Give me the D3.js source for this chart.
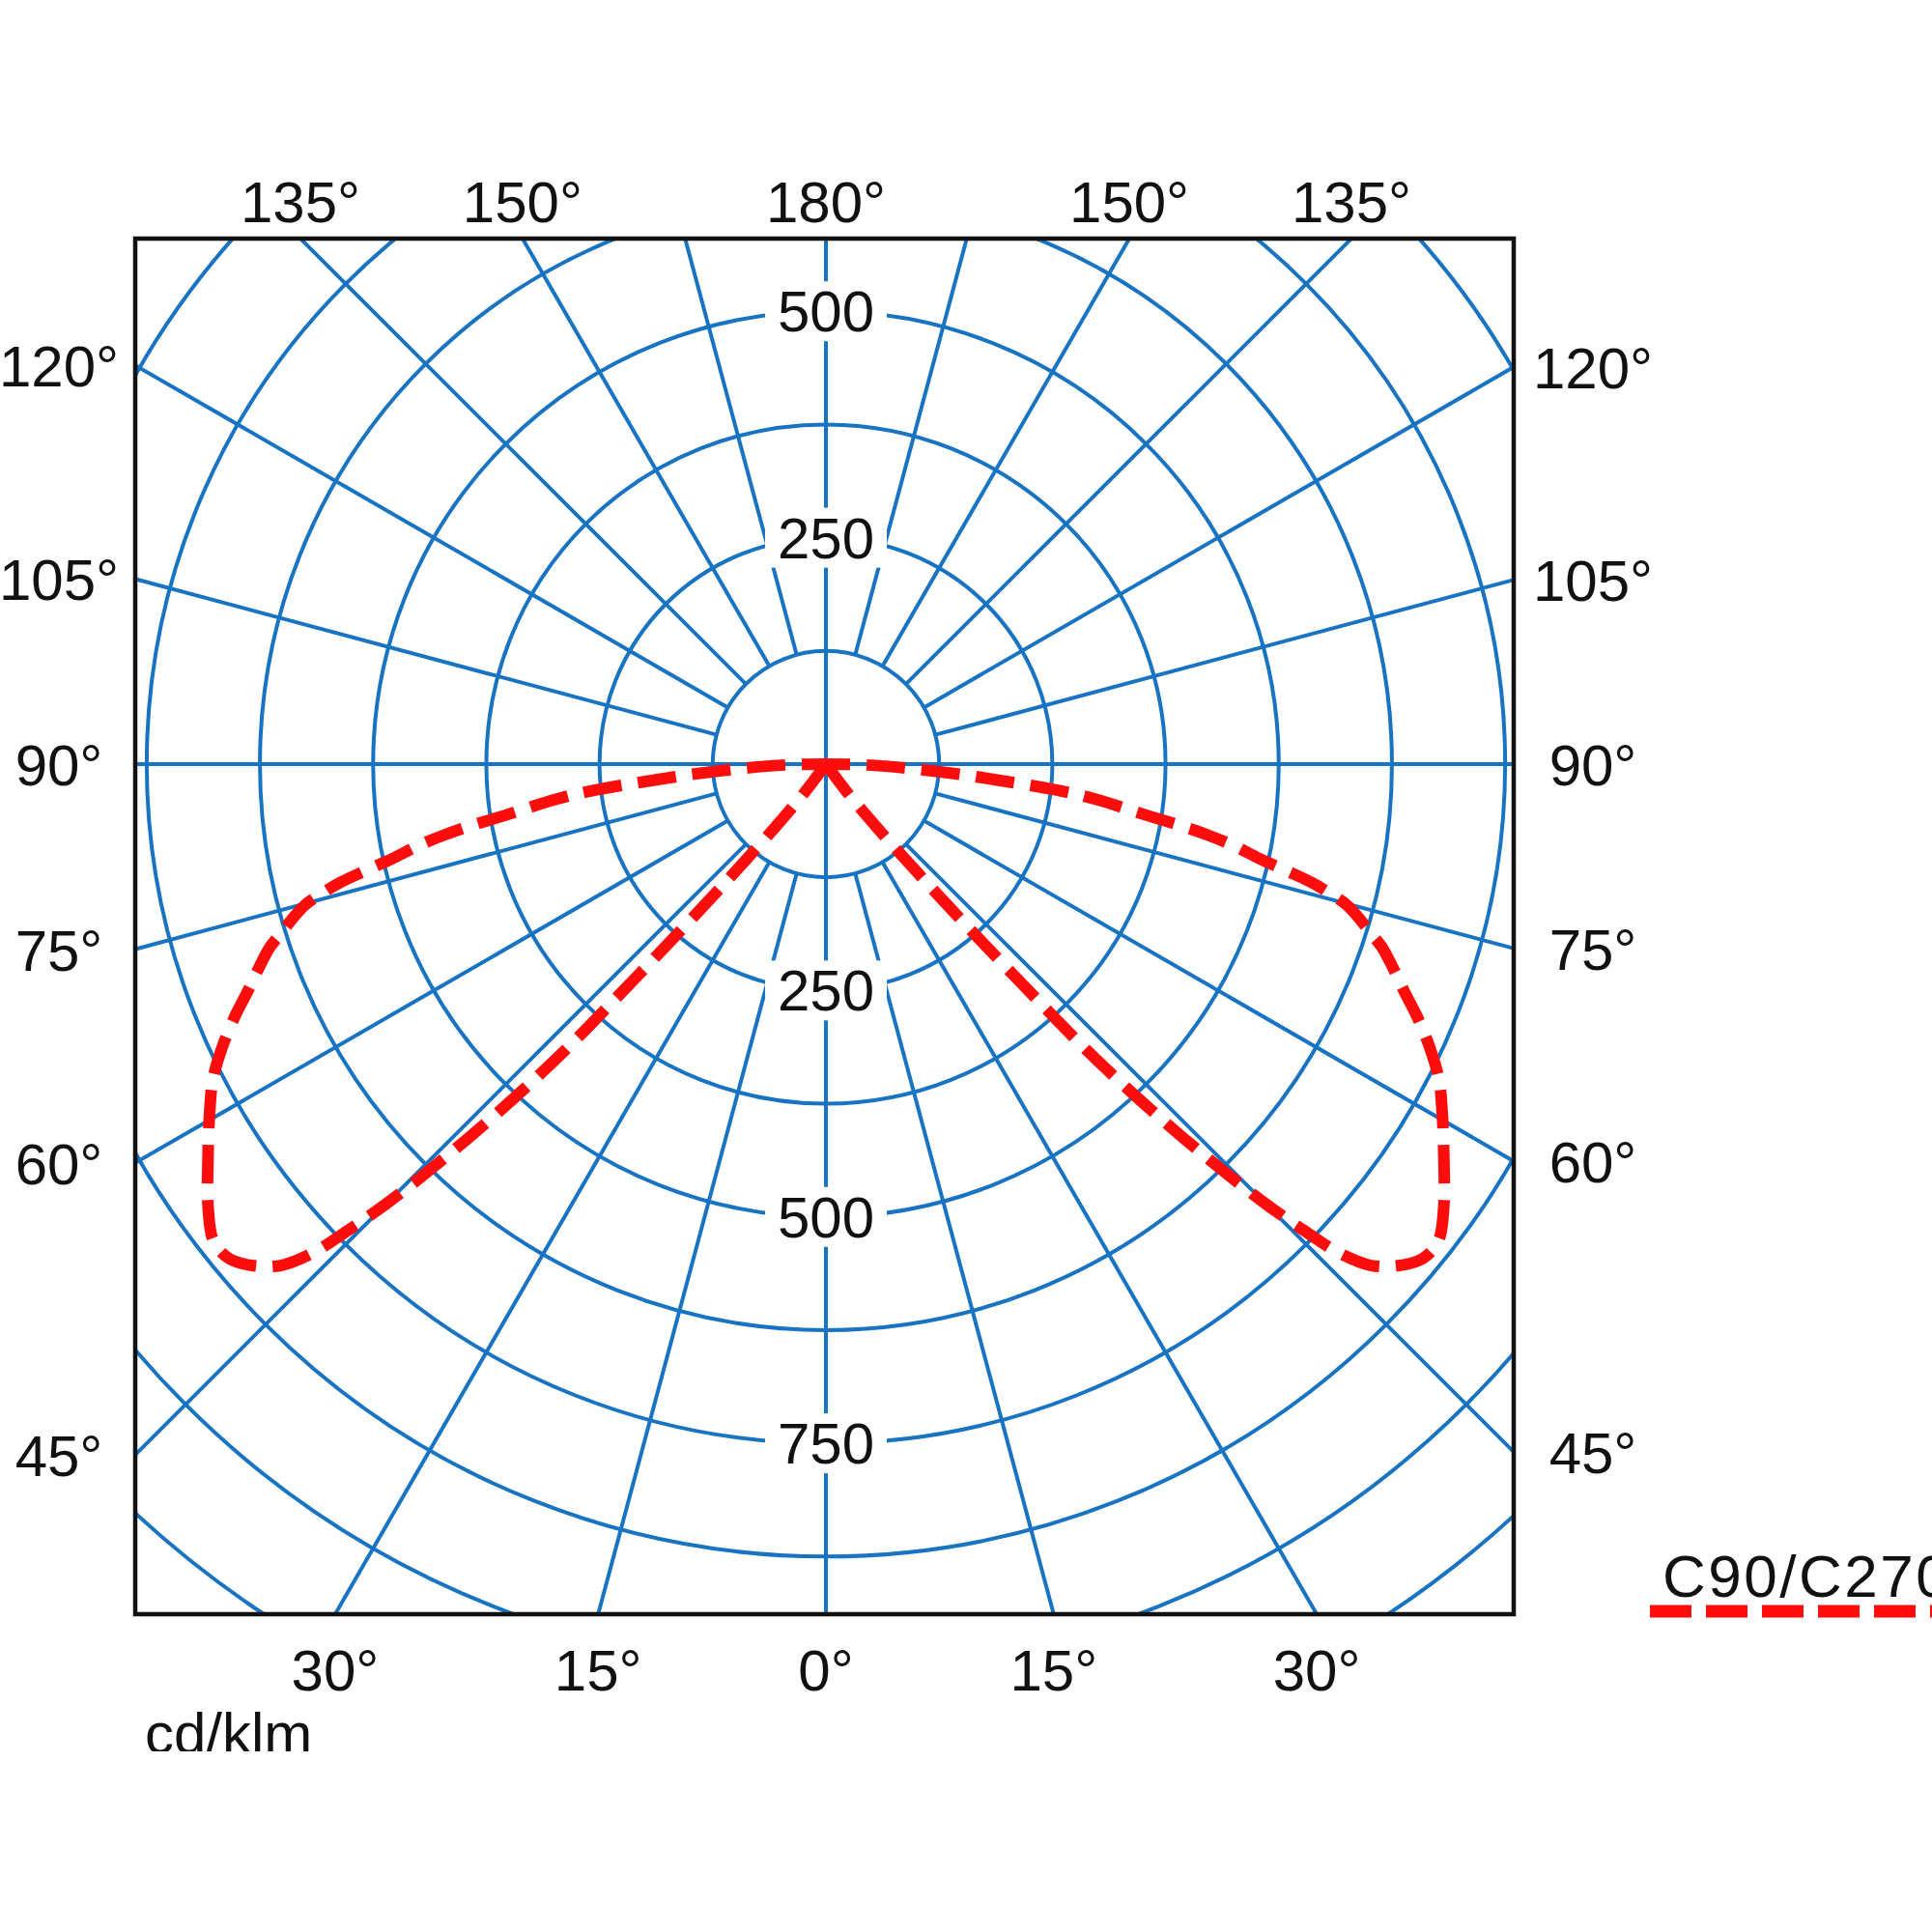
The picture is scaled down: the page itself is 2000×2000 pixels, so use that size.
<!DOCTYPE html>
<html>
<head>
<meta charset="utf-8">
<script src="https://cdn.jsdelivr.net/npm/d3@7"></script>
<style>
	body { margin: 0; background: #fff; }
	svg { display: block; }
	text { font-family: "Liberation Sans", Arial, sans-serif; fill: #111; }
</style>
</head>
<body>
<div id="graph"></div>
<script>
// polar light distribution, C90/C270 plane, values in cd/klm
// gamma is the angle from nadir in degrees
var gamma = [30, 36, 37, 38.8, 40.2, 41, 41.5, 41.9, 42.3, 42.9, 43.6, 44.3, 45, 45.7, 46.4, 47.4, 48.9, 50.4,
	52.1, 54.3, 57.4, 60.6, 62.8, 64.9, 67, 68.4, 70.1, 71.8, 72.8, 73.8, 74.9, 75.6, 76.3, 76.9, 77.7,
	78.6, 79.4, 80.1, 80.9, 82.6, 83.6, 84.6, 85.6, 86.7, 88, 89.2, 90];
var c90 = [0, 0, 40, 90, 160, 230, 290, 350, 420, 490, 560, 625, 687, 737, 783, 818, 842, 856,
	857, 840, 810, 781, 761, 736, 708, 688, 667, 646, 629, 614, 595, 575, 552, 525, 490,
	462, 432, 400, 360, 300, 255, 195, 150, 105, 65, 35, 0];
var c270 = [0, 0, 40, 90, 160, 230, 290, 350, 420, 490, 560, 625, 687, 737, 783, 818, 842, 856,
	857, 840, 810, 781, 761, 736, 708, 688, 667, 646, 629, 614, 595, 575, 552, 525, 490,
	462, 432, 400, 360, 300, 255, 195, 150, 105, 65, 35, 0];

var rings = [125, 250, 375, 500, 625, 750, 875, 1000, 1125];
var spokeStep = 15;
var sideTicks = [120, 105, 90, 75, 60, 45];
var topTicks = [135, 150, 180];
var bottomTicks = [30, 15, 0];
var upValues = [250, 500];
var downValues = [250, 500, 750];
var unitLabel = "cd/klm";
var legendLabel = "C90/C270";

(function() {
	// graph keeps the frame geometry and the styles
	var graph = {
		svg: null,
		width: 2000,
		height: 2000,
		cx: 855,
		cy: 791,
		box: { left: 140, top: 247, right: 1567, bottom: 1671 },
		blue: "#1874c3",
		red: "#ff0d0d",
		fontSize: 60,
		rScale: d3.scaleLinear().domain([0, 1000]).range([0, 937.5])
	};

	var rad = function(deg) { return deg * Math.PI / 180; };

	// _drawGrid draws rings and spokes clipped to the frame
	var _drawGrid = function(g) {
		g.selectAll("circle.ring")
		.data(rings)
		.enter()
		.append("circle")
		.attr("class", "ring")
		.attr("r", function(d) { return graph.rScale(d); })
		.attr("fill", "none")
		.attr("stroke", graph.blue)
		.attr("stroke-width", 4);

		var spokes = d3.range(0, 360, spokeStep);
		g.selectAll("line.spoke")
		.data(spokes)
		.enter()
		.append("line")
		.attr("class", "spoke")
		.attr("x1", function(d) { return d3.pointRadial(rad(d), d % 90 === 0 ? 0 : graph.rScale(rings[0]))[0]; })
		.attr("y1", function(d) { return d3.pointRadial(rad(d), d % 90 === 0 ? 0 : graph.rScale(rings[0]))[1]; })
		.attr("x2", function(d) { return d3.pointRadial(rad(d), graph.rScale(1600))[0]; })
		.attr("y2", function(d) { return d3.pointRadial(rad(d), graph.rScale(1600))[1]; })
		.attr("stroke", graph.blue)
		.attr("stroke-width", 4);
	};

	// _drawValueLabels puts the intensity labels on the vertical axis
	var _drawValueLabels = function(g) {
		var labels = upValues.map(function(v) { return { v: v, y: -graph.rScale(v) }; })
			.concat(downValues.map(function(v) { return { v: v, y: graph.rScale(v) }; }));

		var lg = g.selectAll("g.vlabel")
		.data(labels)
		.enter()
		.append("g")
		.attr("class", "vlabel")
		.attr("transform", function(d) { return "translate(0," + d.y + ")"; });

		lg.append("rect")
		.attr("x", -63)
		.attr("y", -31)
		.attr("width", 126)
		.attr("height", 62)
		.attr("fill", "#fff");

		lg.append("text")
		.attr("text-anchor", "middle")
		.attr("y", 21)
		.attr("font-size", graph.fontSize)
		.text(function(d) { return d.v; });
	};

	// _drawCurve draws both halves of the distribution
	var _drawCurve = function(g) {
		var halves = [
			{ values: c90, sign: -1 },
			{ values: c270, sign: 1 }
		];
		var line = d3.lineRadial()
		.angle(function(d) { return d.a; })
		.radius(function(d) { return graph.rScale(d.v); })
		.curve(d3.curveCatmullRom.alpha(0.5));

		g.selectAll("path.curve")
		.data(halves)
		.enter()
		.append("path")
		.attr("class", "curve")
		.attr("d", function(h) {
			return line(gamma.map(function(gm, i) {
				return { a: Math.PI + h.sign * rad(gm), v: h.values[i] };
			}));
		})
		.attr("fill", "none")
		.attr("stroke", graph.red)
		.attr("stroke-width", 12)
		.attr("stroke-dasharray", "40,17");
	};

	// _drawAngleLabels writes the gamma labels where spokes meet the frame
	var _drawAngleLabels = function(svg) {
		var b = graph.box, labels = [];
		sideTicks.forEach(function(gm) {
			var s = Math.sin(rad(gm)), c = Math.cos(rad(gm));
			labels.push({ t: gm, x: b.left - 79, y: graph.cy + (graph.cx - b.left) / s * c });
			labels.push({ t: gm, x: b.right + 82, y: graph.cy + (b.right - graph.cx) / s * c });
		});
		topTicks.forEach(function(gm) {
			var s = Math.sin(rad(gm)), c = Math.cos(rad(gm));
			var dx = (b.top - graph.cy) / c * s;
			labels.push({ t: gm, x: graph.cx - dx, y: 208 });
			if (dx > 0.5) labels.push({ t: gm, x: graph.cx + dx, y: 208 });
		});
		bottomTicks.forEach(function(gm) {
			var s = Math.sin(rad(gm)), c = Math.cos(rad(gm));
			var dx = (b.bottom - graph.cy) / c * s;
			labels.push({ t: gm, x: graph.cx - dx, y: 1728 });
			if (dx > 0.5) labels.push({ t: gm, x: graph.cx + dx, y: 1728 });
		});

		svg.selectAll("text.angle")
		.data(labels)
		.enter()
		.append("text")
		.attr("class", "angle")
		.attr("x", function(d) { return d.x; })
		.attr("y", function(d) { return d.y + 22; })
		.attr("text-anchor", "middle")
		.attr("font-size", graph.fontSize)
		.text(function(d) { return d.t + "\u00b0"; });
	};

	// _drawLegend writes the unit and the series key
	var _drawLegend = function(svg) {
		svg.append("text")
		.attr("x", 150)
		.attr("y", 1815)
		.attr("font-size", graph.fontSize)
		.text(unitLabel);
		// the source picture is cropped right through the bottom of the unit label
		svg.append("rect")
		.attr("x", 140).attr("y", 1813)
		.attr("width", 220).attr("height", 30)
		.attr("fill", "#fff");

		svg.append("text")
		.attr("x", 1721)
		.attr("y", 1653)
		.attr("font-size", 62)
		.attr("letter-spacing", 2.5)
		.text(legendLabel);

		svg.append("line")
		.attr("x1", 1708).attr("x2", 2020)
		.attr("y1", 1668).attr("y2", 1668)
		.attr("stroke", graph.red)
		.attr("stroke-width", 13)
		.attr("stroke-dasharray", "43,15");
	};

	var _render = function() {
		var b = graph.box;
		graph.svg = d3.select("#graph").append("svg")
		.attr("width", graph.width)
		.attr("height", graph.height);

		graph.svg.append("rect")
		.attr("width", graph.width).attr("height", graph.height)
		.attr("fill", "#fff");

		graph.svg.append("clipPath").attr("id", "frame")
		.append("rect")
		.attr("x", b.left).attr("y", b.top)
		.attr("width", b.right - b.left).attr("height", b.bottom - b.top);

		var g = graph.svg.append("g")
		.attr("clip-path", "url(#frame)")
		.append("g")
		.attr("transform", "translate(" + graph.cx + "," + graph.cy + ")");

		_drawGrid(g);
		_drawValueLabels(g);
		_drawCurve(g);

		graph.svg.append("rect")
		.attr("x", b.left).attr("y", b.top)
		.attr("width", b.right - b.left).attr("height", b.bottom - b.top)
		.attr("fill", "none")
		.attr("stroke", "#111")
		.attr("stroke-width", 4.5);

		_drawAngleLabels(graph.svg);
		_drawLegend(graph.svg);
	};

	_render();
})();
</script>
</body>
</html>
